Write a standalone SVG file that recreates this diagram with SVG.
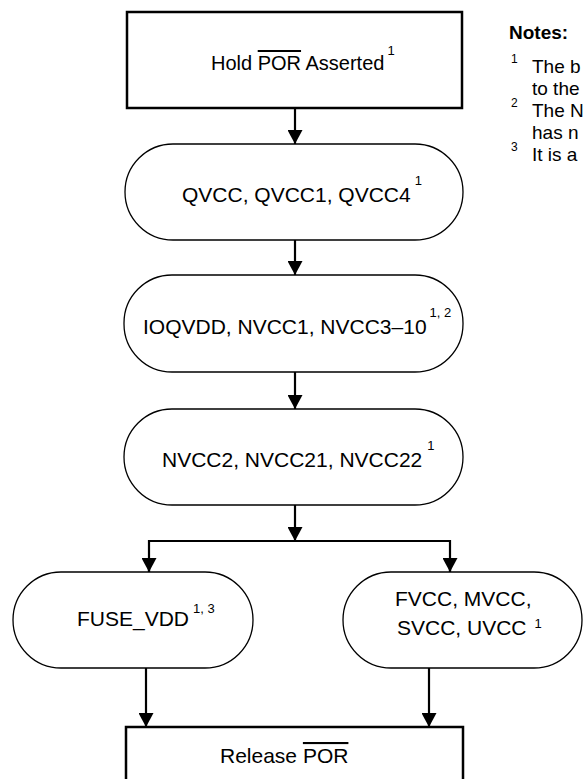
<svg xmlns="http://www.w3.org/2000/svg" width="583" height="779" viewBox="0 0 583 779">
<defs>
<marker id="ah" markerUnits="userSpaceOnUse" markerWidth="15" markerHeight="15" refX="14" refY="7.5" orient="auto" viewBox="0 0 15 15">
<path d="M0,0 L14,7.5 L0,15 Z" fill="#000"/>
</marker>
<style>
.box{fill:#fff;stroke:#000;stroke-width:2.5}
.term{fill:#fff;stroke:#000;stroke-width:1.3}
.t{font-family:"Liberation Sans",Arial,Helvetica,sans-serif;font-size:21px;fill:#000}
.h{font-size:20px}
.sup{font-size:13px}
.ov{text-decoration:overline}
.c{fill:none;stroke:#000;stroke-width:2.2}
.n{font-family:"Liberation Sans",Arial,Helvetica,sans-serif;font-size:19px;fill:#000}
.ns{font-size:12px}
</style>
</defs>
<g id="connectors">
<line class="c" x1="295" y1="108" x2="295" y2="144" marker-end="url(#ah)"/>
<line class="c" x1="295" y1="240" x2="295" y2="275" marker-end="url(#ah)"/>
<line class="c" x1="295" y1="372" x2="295" y2="409" marker-end="url(#ah)"/>
<line class="c" x1="295" y1="505" x2="295" y2="541" marker-end="url(#ah)"/>
<polyline class="c" points="149,572 149,541 450,541 450,572"/>
<line class="c" x1="149" y1="560" x2="149" y2="572" marker-end="url(#ah)"/>
<line class="c" x1="450" y1="560" x2="450" y2="572" marker-end="url(#ah)"/>
<line class="c" x1="146" y1="668" x2="146" y2="727" marker-end="url(#ah)"/>
<line class="c" x1="429" y1="668" x2="429" y2="727" marker-end="url(#ah)"/>
</g>
<g id="hold">
<rect class="box" x="127" y="12" width="335" height="96"/>
<text class="t h" x="211" y="70">Hold <tspan class="ov">POR</tspan> Asserted<tspan class="sup" dx="3" dy="-15">1</tspan></text>
</g>
<g id="qvcc">
<rect class="term" x="125" y="144" width="338" height="96" rx="48" ry="48"/>
<text class="t" x="182" y="202">QVCC, QVCC1, QVCC4<tspan class="sup" dy="-17" dx="4">1</tspan></text>
</g>
<g id="ioqvdd">
<rect class="term" x="124" y="275" width="339" height="97" rx="48" ry="48"/>
<text class="t" x="143" y="334">IOQVDD, NVCC1, NVCC3–10<tspan class="sup" dy="-17" dx="3">1, 2</tspan></text>
</g>
<g id="nvcc2">
<rect class="term" x="124" y="409" width="339" height="96" rx="48" ry="48"/>
<text class="t" x="162" y="467">NVCC2, NVCC21, NVCC22<tspan class="sup" dy="-17" dx="5">1</tspan></text>
</g>
<g id="fuse">
<rect class="term" x="13" y="572" width="240" height="96" rx="48" ry="48"/>
<text class="t" x="77" y="626">FUSE_VDD<tspan class="sup" dx="4" dy="-13">1, 3</tspan></text>
</g>
<g id="fvcc">
<rect class="term" x="343" y="572" width="239" height="96" rx="48" ry="48"/>
<text class="t" x="395" y="606">FVCC, MVCC,</text>
<text class="t" x="397" y="635">SVCC, UVCC<tspan class="sup" dx="8" dy="-7">1</tspan></text>
</g>
<g id="release">
<rect class="box" x="126" y="727" width="337" height="70"/>
<text class="t" x="220" y="763">Release <tspan class="ov">POR</tspan></text>
</g>
<g id="notes">
<text class="n" x="509" y="39" font-weight="bold">Notes:</text>
<text class="n ns" x="511" y="63">1</text>
<text class="n" x="532" y="73">The b</text>
<text class="n" x="532" y="95">to the</text>
<text class="n ns" x="511" y="107">2</text>
<text class="n" x="532" y="117">The N</text>
<text class="n" x="532" y="139">has n</text>
<text class="n ns" x="511" y="151">3</text>
<text class="n" x="532" y="161">It is a</text>
</g>
</svg>
